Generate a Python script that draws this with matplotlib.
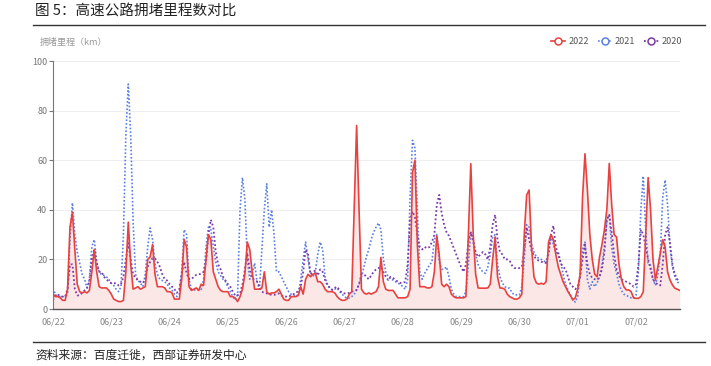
import matplotlib
matplotlib.use("Agg")
import matplotlib.pyplot as plt
from matplotlib.lines import Line2D
import numpy as np

plt.rcParams['font.family'] = ['Noto Sans CJK SC', 'DejaVu Sans']

# hourly congestion mileage (km), 06/22 00:00 -> 07/02 18:00
red_2022 = [
    6, 5, 5, 4.5, 3.5, 3.5, 8, 33, 39, 24, 10, 7, 6.5, 7, 6.5, 7.5, 15, 24, 15, 9, 8.5, 8.5, 8.5, 7.5,
    6, 4, 3.5, 3, 3, 3.5, 15, 35, 18, 8, 8.5, 9, 8, 8.5, 9, 20, 21, 26, 14, 9, 9, 9, 8.5, 7,
    7, 6.5, 4, 4, 4, 12, 28, 25, 9, 7.5, 8, 8.5, 7.5, 10, 9.5, 20, 30, 28, 15, 12, 9, 7.5, 7, 7,
    7, 5, 5, 4.5, 3, 5, 8, 14, 27, 24, 15, 8, 8, 8, 8.5, 15, 7, 6, 6.5, 6.5, 7, 8, 6, 4,
    3.5, 3.5, 5, 5, 5, 5.5, 9, 6, 12, 14, 13, 14, 14.4, 11, 11, 10, 8, 7, 7, 7, 6.5, 5, 4, 3.5,
    3.5, 4, 6, 7, 40, 74, 40, 8, 6.5, 6, 6.5, 6, 6.5, 7, 9, 20.8, 11, 8, 7.5, 7.5, 7.5, 6, 4.5, 4.5,
    4.5, 4.5, 5, 8, 55, 60, 26, 9, 9, 9, 8.5, 8.5, 9, 15, 29.5, 22, 10, 9, 10, 9, 6, 5, 4.5, 4.5,
    4.5, 4.5, 5, 30, 58.6, 30, 14, 8.5, 8.4, 8.4, 8.4, 8.5, 10, 20, 29, 13, 8.5, 8.4, 8, 6, 5, 4.5, 4, 4,
    4.5, 6, 30, 46, 48, 25, 13, 10.5, 10, 10.4, 10, 11, 27, 30, 28, 22, 17, 14, 11, 9, 7, 5.5, 3.6, 4.5,
    8, 14, 45, 62.6, 48, 30, 20, 14, 13, 21, 26, 32, 40, 58.7, 42, 30, 29, 18, 12, 9, 7.7, 7.7, 7, 4.5,
    4.3, 4.3, 5, 7, 30, 53, 40, 20, 11.7, 17, 22.5, 28, 25, 15, 11.7, 9.7, 8.4, 8, 7.5,
]
blue_2021 = [
    8.4, 6, 5, 5, 5, 5, 6, 28, 42.8, 30, 23, 18.5, 14, 12, 8.5, 12, 25, 28, 19, 15, 13.8, 13.5, 13, 12,
    10.4, 9.5, 8, 7, 9, 30, 70, 90.7, 70, 35, 14, 11.5, 10.5, 9, 14, 25, 32.7, 28, 18, 14, 12, 11.5, 11, 10,
    8.5, 7.5, 6, 5, 6, 15, 32, 30, 12, 8, 7.7, 7.7, 7.7, 7.7, 12, 25, 33, 32, 25, 19, 15, 13.5, 12, 11,
    9, 7, 5, 3.6, 6, 40, 53, 44, 20, 12, 14, 18.5, 11, 8, 24, 40, 50.5, 33, 40, 30, 15, 15, 13, 11,
    9, 7, 6, 5.5, 5, 6, 12, 20, 27, 20, 14, 13, 15, 22, 27, 24, 13, 10, 8.5, 7.7, 8, 8.4, 7, 6,
    5, 4.3, 4.5, 5, 6, 7.7, 10, 13, 17, 21, 24, 28, 31, 33, 34.7, 32, 20, 15, 13, 12, 11.7, 11, 10.4, 10,
    9, 8, 12, 45, 68, 65, 40, 15, 12, 14.4, 16, 17.8, 19, 28, 30, 19, 16, 16, 17, 13, 8, 6, 5, 5,
    5, 5, 7, 18, 31, 28, 22, 18, 16, 15, 14.4, 17, 22, 29, 30, 18, 13, 10.5, 9, 8.5, 8.4, 6.5, 5.7, 5.7,
    5.7, 9, 20, 34, 33, 26, 23, 21, 20.5, 20, 19.5, 18.5, 22, 30, 26, 22.5, 23, 19, 14, 10, 7.7, 5.5, 4, 2.8,
    5, 14, 24, 27, 12, 8, 11, 9, 10.5, 13, 18, 25, 36, 38, 25, 18, 14.4, 10, 7.5, 6, 5.5, 5, 4.5, 4.3,
    5.5, 15, 40, 53.6, 32, 18.5, 17.5, 12, 9.5, 14, 22, 45, 52, 42, 25, 17, 13, 11, 10,
]
purple_2020 = [
    3.6, 5.5, 6, 5, 5, 5, 8, 18, 18, 8, 5.5, 5.5, 6.5, 7.5, 8.5, 11, 20, 24, 18.5, 15, 15, 13, 12, 11,
    10.4, 10.4, 10.4, 9.5, 10, 13, 20, 26.6, 20, 14, 12.5, 11.5, 11, 10.5, 12, 17, 19, 20.5, 20.5, 19, 17, 14, 12, 11.5,
    10, 9, 8, 6.5, 8, 14.4, 19, 14.4, 12, 12, 13, 13.8, 14, 14.2, 15, 19, 30, 36, 33, 23, 18, 16, 13, 11.5,
    10, 9, 7, 5.5, 5.5, 6.3, 10, 16, 22.5, 16, 12.5, 11.7, 11.2, 9, 7, 6.5, 6.3, 6, 5.7, 5.7, 6, 6.3, 5.5, 5,
    5, 5, 5.5, 6, 6.3, 7.5, 9, 15, 24, 22, 14, 15, 15.5, 13.5, 16, 15, 11.7, 9.5, 8.5, 7.7, 8.5, 9, 7.5, 6.5,
    6.3, 6.3, 6.5, 7, 7.3, 7.7, 10, 14, 14, 13, 12, 13.5, 15, 16, 16.5, 17, 15, 13, 11.7, 13, 12.5, 11.7, 11, 10.5,
    10.5, 11, 18, 36, 39.4, 37, 30, 25, 24, 25, 24.5, 25, 27, 30, 42, 46, 38.7, 34, 31, 29.5, 27, 24.5, 22, 19.5,
    17, 15, 18, 27, 31, 27, 23, 21, 22, 23, 22, 20, 25, 34, 38, 28, 23, 22, 20, 20, 19.5, 17.5, 16.5, 16.5,
    16.5, 17, 24, 33, 28, 23.5, 21.5, 20, 19.5, 19, 19, 18.5, 23, 30, 33.6, 25, 22, 18.5, 17, 16, 13, 10, 9, 8,
    9, 13, 20, 26, 18, 14, 12.5, 12, 11.7, 13, 16, 23, 36, 38, 30.6, 22, 16, 13.5, 12, 11.5, 11, 10.5, 10, 9,
    10, 18, 32, 30, 25, 20, 16, 12, 10.5, 10, 9.5, 18, 30, 33, 26.6, 18, 14, 12, 11,
]
day_labels = ["06/22", "06/23", "06/24", "06/25", "06/26", "06/27",
              "06/28", "06/29", "06/30", "07/01", "07/02"]
y_ticks = [0, 20, 40, 60, 80, 100]

RED = "#e8413f"
BLUE = "#5b80e0"
PURPLE = "#7b3aa8"

hours = np.arange(len(red_2022))

fig = plt.figure(figsize=(7.11, 3.66), dpi=100)
ax = fig.add_axes([0.0745, 0.1557, 0.8815, 0.6776])

ax.fill_between(hours, red_2022, 0, color="#f5a3a3", alpha=0.25, lw=0, zorder=1)
ax.plot(hours, blue_2021, color=BLUE, lw=1.2, ls=(0, (1, 1.2)), zorder=2)
ax.plot(hours, purple_2020, color=PURPLE, lw=1.3, ls=(0, (1, 1.3)), zorder=2)
ax.plot(hours, red_2022, color=RED, lw=1.2, zorder=3)

ax.set_xlim(0, len(red_2022) - 1)
ax.set_ylim(0, 100)
ax.set_yticks(y_ticks)
ax.set_xticks(np.arange(len(day_labels)) * 24)
ax.set_xticklabels(day_labels)
ax.grid(axis="y", color="#eeeeee", lw=0.8)
ax.set_axisbelow(True)
for s in ["top", "right"]:
    ax.spines[s].set_visible(False)
ax.spines["left"].set_color("#777777")
ax.spines["left"].set_linewidth(0.8)
ax.spines["bottom"].set_color("#555555")
ax.spines["bottom"].set_linewidth(1.0)
ax.tick_params(axis="y", length=3, width=0.8, color="#777777", labelsize=6.5,
               labelcolor="#777777", pad=1)
ax.tick_params(axis="x", length=0, labelsize=6.5, labelcolor="#888888", pad=6)

# y label
fig.text(40 / 711, 1 - 42 / 366, "拥堵里程（km）", fontsize=6.5, color="#999999",
         va="center", ha="left")

# legend
handles = [
    Line2D([], [], color=RED, lw=1.2, marker="o", mfc="white", ms=5, mew=1.1),
    Line2D([], [], color=BLUE, lw=1.2, ls=(0, (1, 1.2)), marker="o", mfc="white", ms=5, mew=1.1),
    Line2D([], [], color=PURPLE, lw=1.3, ls=(0, (1, 1.3)), marker="o", mfc="white", ms=5, mew=1.1),
]
fig.legend(handles, ["2022", "2021", "2020"], loc="center right",
           bbox_to_anchor=(690 / 711, 1 - 42 / 366), ncol=3, frameon=False,
           fontsize=6.5, handlelength=1.6, handletextpad=0.3, columnspacing=1.0,
           labelcolor="#555555")

# title and source
fig.text(35 / 711, 1 - 12 / 366, "图 5：高速公路拥堵里程数对比", fontsize=10.5,
         color="#222222", va="center", ha="left")
fig.add_artist(Line2D([33 / 711, 705 / 711], [1 - 25 / 366, 1 - 25 / 366],
                      color="#333333", lw=1.0))
fig.add_artist(Line2D([33 / 711, 705 / 711], [1 - 342 / 366, 1 - 342 / 366],
                      color="#333333", lw=1.0))
fig.text(35 / 711, 1 - 355 / 366, "资料来源：百度迁徙，西部证券研发中心", fontsize=8.5,
         color="#222222", va="center", ha="left")

fig.savefig("out.png", dpi=100)
